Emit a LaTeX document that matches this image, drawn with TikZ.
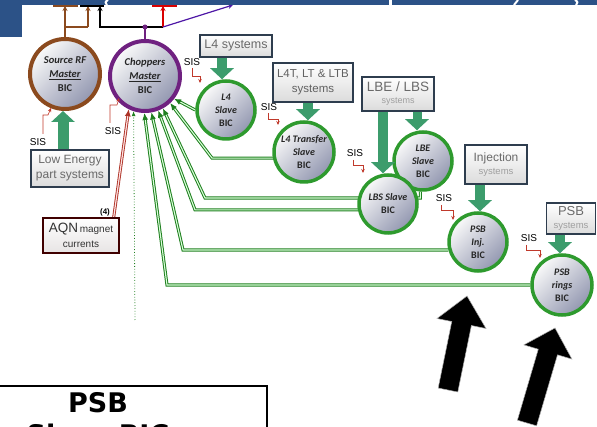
\documentclass[tikz,border=0pt]{standalone}
\usepackage{fontspec}
\setmainfont{Liberation Sans}
\newfontfamily\carl{Carlito}
\newfontfamily\dejab{DejaVu Sans}
\usetikzlibrary{arrows.meta,calc}
\definecolor{band}{HTML}{2C5287}
\definecolor{brownring}{HTML}{8B4A1E}
\definecolor{purpring}{HTML}{6F2180}
\definecolor{greenring}{HTML}{2E9A2E}
\definecolor{fatgreen}{HTML}{3C9C6C}
\definecolor{boxedge}{HTML}{2E3D4E}
\definecolor{boxtext}{HTML}{6A6A6A}
\definecolor{sisred}{HTML}{C0392B}
\definecolor{fbgreen}{HTML}{1F7F1F}
\definecolor{circdark}{HTML}{9297B0}
\pgfdeclarelayer{bg}
\pgfsetlayers{bg,main}
\begin{document}
\begin{tikzpicture}[x=1pt,y=-1pt,
  bic/.style={circle, inner sep=0pt, align=center, top color=gray!4, bottom color=circdark, shading angle=45,
     text=black!85, font=\carl\bfseries\itshape\fontsize{10}{13}\selectfont},
  master/.style={bic, minimum size=70pt, line width=4pt, font=\carl\bfseries\itshape\fontsize{10.5}{14}\selectfont},
  slave/.style={bic, draw=greenring, line width=3.5pt, minimum size=58pt},
  sysbox/.style={rectangle, draw=boxedge, line width=1.4pt, top color=white, bottom color=gray!28,
     text=boxtext, align=center, inner sep=0pt},
  sis/.style={font=\fontsize{10}{12}\selectfont, inner sep=0pt},
  sisarr/.style={draw=sisred, line width=0.6pt, -{Stealth[length=4pt,width=3.5pt]}},
  fb/.style={draw=fbgreen, line width=1pt, double=white!85!green, double distance=1.1pt, -{Latex[length=7pt,width=6pt]}},
  redline/.style={draw=sisred!90!black, line width=0.9pt, double=white!88!red, double distance=1.2pt, -{Latex[length=7pt,width=6pt]}},
  fat/.style={draw=fatgreen, line width=10pt, -{Triangle[length=11pt,width=23pt]}},
  topar/.style={line width=1.5pt, -{Stealth[length=5pt,width=5pt]}},
  bigarrow/.style={fill=black, draw=gray!60, line width=0.5pt}
]
\useasboundingbox (0,0) rectangle (597,427);
\clip (0,0) rectangle (597,427);

% title band fragments
\fill[band] (0,0) rectangle (597,5);
\fill[band] (0,0) rectangle (22,37);

% masters
\node[master, draw=brownring] (src) at (65,74) {Source RF\\\underline{Master}\\{\upshape BIC}};
\node[master, draw=purpring] (chop) at (145,76) {Choppers\\\underline{Master}\\{\upshape BIC}};

% slaves
\node[slave] (l4) at (226,110) {L4\\Slave\\{\upshape BIC}};
\node[slave, minimum size=60pt] (l4t) at (304,152) {L4 Transfer\\Slave\\{\upshape BIC}};
\node[slave] (lbe) at (423,161) {LBE\\Slave\\{\upshape BIC}};
\node[slave] (lbs) at (388,204) {LBS Slave\\{\upshape BIC}};
\node[slave] (inj) at (478,242) {PSB\\Inj.\\{\upshape BIC}};
\node[slave, minimum size=60pt] (rings) at (562,285) {PSB\\rings\\{\upshape BIC}};

% system boxes
\node[sysbox, minimum width=72pt, minimum height=22pt, font=\fontsize{12.5}{14}\selectfont] (l4sys) at (236,46) {L4 systems};
\node[sysbox, minimum width=80pt, minimum height=39pt, text=black!62, font=\fontsize{11.5}{15}\selectfont] (l4tsys) at (313,82.5)
  {L4T, LT \& LTB\\systems};
\node[sysbox, minimum width=72pt, minimum height=34pt, font=\fontsize{13.5}{15}\selectfont] (lbesys) at (398,94)
  {LBE / LBS\\[-3pt]{\fontsize{9}{10}\selectfont\color{gray!75}systems}};
\node[sysbox, minimum width=62pt, minimum height=39pt, font=\fontsize{12}{15}\selectfont] (injsys) at (496,164.5)
  {Injection\\[-2pt]{\fontsize{9.5}{11}\selectfont\color{gray!75}systems}};
\node[sysbox, minimum width=49pt, minimum height=31pt, font=\fontsize{13}{14}\selectfont] (psbsys) at (571,218.5)
  {PSB\\[-1pt]{\fontsize{9.5}{11}\selectfont\color{gray!75}systems}};
\node[sysbox, minimum width=78pt, minimum height=37pt, font=\fontsize{12}{15}\selectfont] (lowsys) at (70,168.5)
  {Low Energy\\part systems};
\node[sysbox, draw=black!75!red, top color=white, bottom color=red!6!gray!20, text=black!80,
  minimum width=76pt, minimum height=35pt, font=\fontsize{10}{15}\selectfont] (aqn) at (81,235.5)
  {{\fontsize{13.5}{15}\selectfont AQN}\,magnet\\currents};
\node[font=\bfseries\fontsize{8}{9}\selectfont, inner sep=0pt] (four) at (105,212) {(4)};

% fat green arrows
\draw[fat] (222,0 |- l4sys.south) -- (222,0 |- l4.north);
\draw[fat] (308,0 |- l4tsys.south) -- (308,0 |- l4t.north);
\draw[fat] (383,0 |- lbesys.south) -- (383,0 |- lbs.north);
\draw[fat, line width=9pt] (417,0 |- lbesys.south) -- (417,0 |- lbe.north);
\draw[fat] (480,0 |- injsys.south) -- (480,0 |- inj.north);
\draw[fat] (560,0 |- psbsys.south) -- (560,0 |- rings.north);
\draw[fat, line width=11pt] (63,0 |- lowsys.north) -- (63,0 |- src.south);

% feedback lines to choppers (behind circles)
\begin{pgfonlayer}{bg}
\draw[fb] (l4.west) -- (chop.-38);
\draw[fb] (l4t.191) -- (212,0 |- l4t.191) -- (chop.-47);
\draw[fb] (lbe.-95) |- (205,198) -- (chop.-61);
\draw[fb] (lbs.191) -- (195,0 |- lbs.191) -- (chop.-69);
\draw[fb] (inj.195) -- (183,0 |- inj.195) -- (chop.-80);
\draw[fb] (rings.west) -- (167,0 |- rings.west) -- (chop.-91);
\coordinate (dotend) at (135,320);
\draw[fbgreen, dotted, line width=0.8pt, -{Latex[length=5pt,width=4pt]}] (dotend) -- (chop.-108);
\draw[redline] ([xshift=-6pt]aqn.north east) -- (chop.-116);
\end{pgfonlayer}

% top connections
\coordinate (bj) at (65,27);
\coordinate (bj2) at (88,27);
\coordinate (tA) at (65,6);
\coordinate (tB) at (88,6);
\coordinate (cd) at (145,27);
\coordinate (ck) at (100,27);
\coordinate (tC) at (100,6);
\coordinate (cr) at (163,27);
\coordinate (tD) at (163,6);
\coordinate (tE) at (233,5);
\draw[brownring, line width=1.6pt] (src.north) -- (bj) -- (bj2);
\draw[brownring, topar] (bj) -- (tA);
\draw[brownring, topar] (bj2) -- (tB);
\draw[purpring, line width=1.6pt] (chop.north) -- (cd);
\draw[black, line width=1.6pt] (cd) -- (cr);
\draw[black, topar] (cd) -- (ck) -- (tC);
\draw[red!85!black, topar] (cr) -- (tD);
\draw[purpring!70!blue, line width=1.2pt, -{Stealth[length=5pt,width=5pt]}] (cr) -- (tE);
\fill[purpring] (cd) circle (2.5pt);
\draw[brownring, line width=1.5pt] (53,6) -- (78,6);
\draw[black, line width=1.5pt] (80,6) -- (104,6);
\draw[red!85!black, line width=1.5pt] (152,6) -- (177,6);
\fill[band] (0,0) rectangle (597,5);
\draw[white, line width=2pt] (108,0) .. controls (105,2) .. (107,5);
\fill[white] (389,0) rectangle (392,5);
\draw[white, line width=2pt] (518,0) -- (514,5);
\draw[white, line width=2pt] (575,0) .. controls (578,2) .. (576,5);

% SIS labels
\node[sis] (sA) at (38,142) {SIS};
\node[sis] (sB) at (113,131) {SIS};
\node[sis] (sC) at (192,62) {SIS};
\node[sis] (sD) at (269,107) {SIS};
\node[sis] (sE) at (355,153) {SIS};
\node[sis] (sF) at (444,198) {SIS};
\node[sis] (sG) at (529,238) {SIS};
\draw[sisarr] ([shift={(5,-8)}]sA.center) -- ++(0,-19) -- ++(5,0) -- ++(3,-7);
\draw[sisarr] ([shift={(-3,-8)}]sB.center) -- ++(0,-18) -- ++(7,0) -- ++(2,-7);
\draw[sisarr] ([shift={(0,6)}]sC.center) -- ++(0,8) -- ++(8,0) -- ++(0,7);
\draw[sisarr] ([shift={(-1,6)}]sD.center) -- ++(0,6) -- ++(10,0) -- ++(0,6);
\draw[sisarr] ([shift={(-2,7)}]sE.center) -- ++(0,5) -- ++(10,0) -- ++(0,8);
\draw[sisarr] ([shift={(-3,7)}]sF.center) -- ++(0,5) -- ++(12,0) -- ++(0,10);
\draw[sisarr] ([shift={(-3,7)}]sG.center) -- ++(0,5) -- ++(14,0) -- ++(0,8);

% big black arrows
\filldraw[bigarrow] (467,296) -- (486,328.5) -- (471.4,325.5) -- (457.8,392) -- (438.2,388) -- (451.8,321.5) -- (437,318.5) -- cycle;
\filldraw[bigarrow] (555,328) -- (571.9,359.1) -- (557.5,354.8) -- (536.6,425.8) -- (517.4,420.2) -- (538.3,349.2) -- (523.9,344.9) -- cycle;

% PSB slave BIC box
\draw[line width=1.3pt] (-5,386) rectangle (267,470);
\node[anchor=base, inner sep=0pt, font=\dejab\bfseries\fontsize{27}{30}\selectfont] (psbl1) at (98,413) {PSB};
\node[anchor=base, inner sep=0pt, font=\dejab\bfseries\fontsize{27}{30}\selectfont] (psbl2) at (98,444) {Slave BIC};
\end{tikzpicture}
\end{document}
